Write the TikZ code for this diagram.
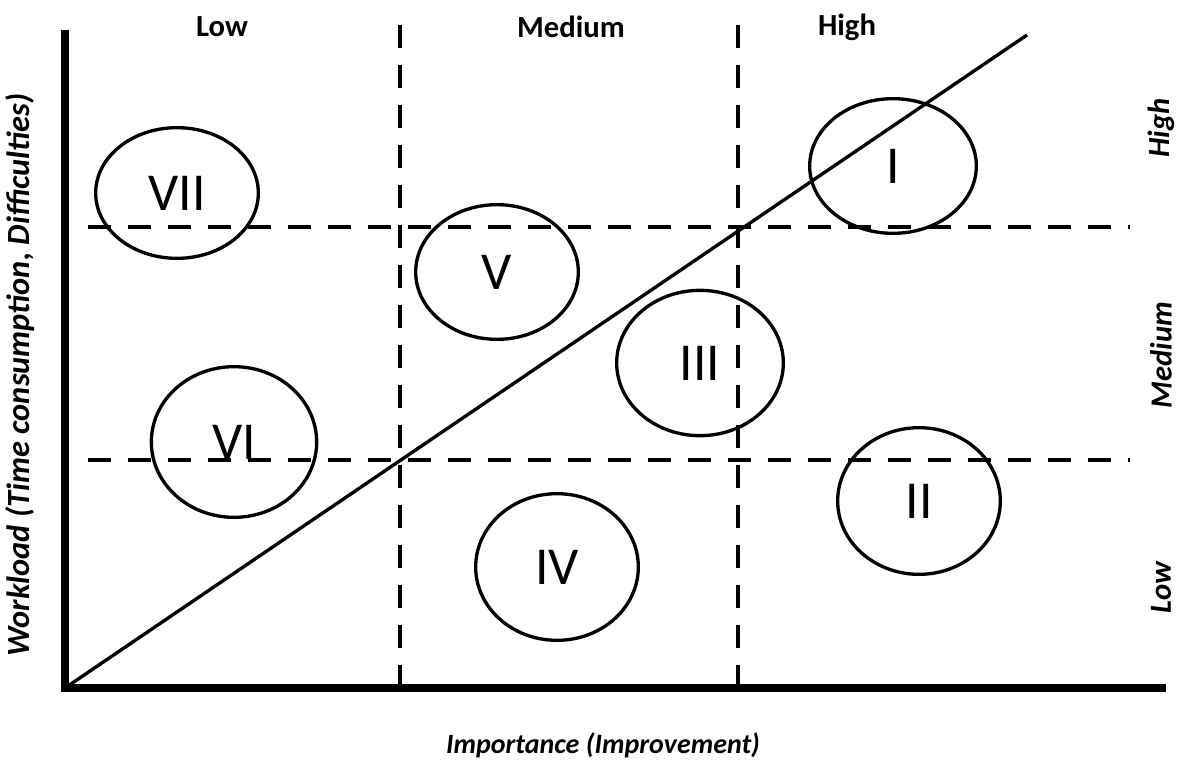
\documentclass[tikz,border=0pt]{standalone}
\usepackage{fontspec}
\setmainfont{Carlito}
\usetikzlibrary{shapes.geometric}
\begin{document}
\begin{tikzpicture}[x=0.75pt,y=-0.75pt,
  axis/.style={line width=5.5pt},
  diag/.style={line width=2.5pt},
  grid/.style={line width=3.4pt, dash pattern=on 17pt off 13pt},
  zone/.style={draw, ellipse, line width=2.5pt, inner sep=0pt, font=\fontsize{40}{44}\selectfont},
  toplab/.style={font=\fontsize{23}{26}\selectfont\bfseries},
  sidelab/.style={font=\fontsize{23}{26}\selectfont\bfseries\itshape, rotate=90}
]
\useasboundingbox (0,0) rectangle (1188,760);
% axes
\coordinate (O) at (65,688);
\coordinate (ytop) at (65,30);
\coordinate (xend) at (1166,688);
\coordinate (dend) at (1027,35);
\draw[axis] (ytop) -- (O) -- (xend);
% dashed grid
\coordinate (v1t) at (400,25); \coordinate (v1b) at (400,690);
\coordinate (v2t) at (738,25); \coordinate (v2b) at (738,690);
\coordinate (h1l) at (88,227); \coordinate (h1r) at (1130,227);
\coordinate (h2l) at (88,460); \coordinate (h2r) at (1130,460);
\draw[grid] (v1t) -- (v1b);
\draw[grid] (v2t) -- (v2b);
\draw[grid] (h1l) -- (h1r);
\draw[grid] (h2l) -- (h2r);
% diagonal
\draw[diag] (O) -- (dend);
% zones
\node[zone, minimum width=122pt, minimum height=98pt] (VII) at (177,193) {VII};
\node[zone, minimum width=122pt, minimum height=101pt] (V) at (497,272) {V};
\node[zone, minimum width=125pt, minimum height=101pt] (I) at (893,166) {I};
\node[zone, minimum width=125pt, minimum height=109pt] (III) at (700,363) {III};
\node[zone, minimum width=124pt, minimum height=113pt] (VI) at (234,442) {VI};
\node[zone, minimum width=122pt, minimum height=110pt] (II) at (919,501) {II};
\node[zone, minimum width=122pt, minimum height=110pt] (IV) at (557,567) {IV};
% labels
\node[toplab] (tlow) at (222,27) {Low};
\node[toplab] (tmed) at (571,27) {Medium};
\node[toplab] (thigh) at (847,27) {High};
\node[sidelab] (rhigh) at (1161,128) {High};
\node[sidelab] (rmed) at (1161,355) {Medium};
\node[sidelab] (rlow) at (1161,588) {Low};
\node[sidelab, font=\fontsize{24.3}{28}\selectfont\bfseries\itshape] (ylab) at (20,375) {Workload (Time consumption, Difficulties)};
\node[font=\fontsize{21}{24}\selectfont\bfseries\itshape] (xlab) at (603,745) {Importance (Improvement)};
\end{tikzpicture}
\end{document}
